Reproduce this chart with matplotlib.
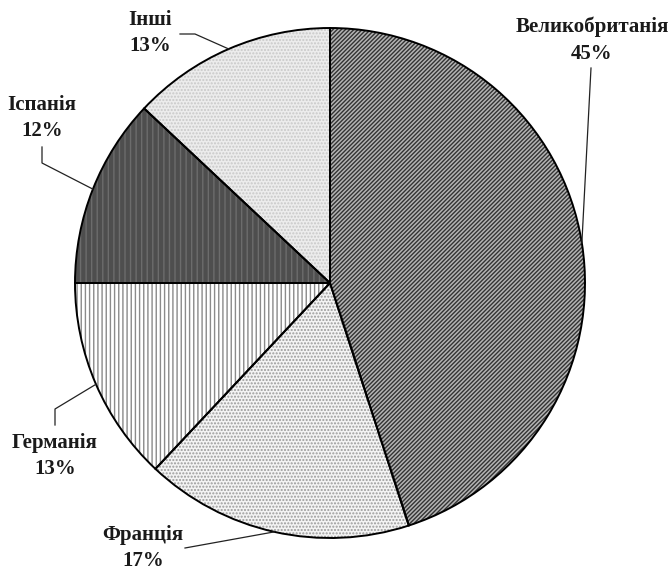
import numpy as np
import matplotlib
matplotlib.use('Agg')
import matplotlib.pyplot as plt

# data
countries = ['Великобританія', 'Франція', 'Германія', 'Іспанія', 'Інші']
shares = [45, 17, 13, 12, 13]

# styles per slice
faces = ['#b4b4b4', '#f4f4f4', '#ffffff', '#4e4e4e', '#ececec']
hatch_cols = ['#333333', '#9a9a9a', '#8a8a8a', '#6c6c6c', '#c8c8c8']
hatches = ['////////', '.....', '||||', '|||', '.....']

# label placement (pixels, origin top-left) and leader elbows
label_xy = [(592, 40), (143, 548), (55, 456), (42, 118), (150, 33)]
elbows = [[(591, 68)], [(185, 548)], [(55, 425), (55, 409)],
          [(42, 147), (42, 163)], [(180, 34), (195, 34)]]

W, H = 671, 570
cx, cy, R = 330, 283, 255

plt.rcParams['font.family'] = ['Liberation Serif', 'DejaVu Serif']
fig = plt.figure(figsize=(W / 100, H / 100), dpi=100)
ax = fig.add_axes([0, 0, 1, 1])
ax.set_xlim(0, W)
ax.set_ylim(0, H)
ax.set_aspect('equal')
ax.axis('off')

center = (cx, H - cy)
wedges, _ = ax.pie(shares, startangle=90, counterclock=False, center=center,
                   radius=R, colors=faces, wedgeprops=dict(linewidth=0))
for w, hc, h in zip(wedges, hatch_cols, hatches):
    w.set_hatch(h)
    w.set_edgecolor(hc)
    w.set_linewidth(0)

# outlines on top
outl, _ = ax.pie(shares, startangle=90, counterclock=False, center=center,
                 radius=R, colors=['none'] * len(shares),
                 wedgeprops=dict(linewidth=1.4, edgecolor='black'))
ax.set_xlim(0, W)
ax.set_ylim(0, H)

for w, name, val, (lx, ly), el in zip(wedges, countries, shares, label_xy, elbows):
    mid = np.deg2rad((w.theta1 + w.theta2) / 2)
    ex = cx + R * np.cos(mid)
    ey = H - cy + R * np.sin(mid)
    pts = [(x, H - y) for x, y in el] + [(ex, ey)]
    xs, ys = zip(*pts)
    ax.plot(xs, ys, color='#222222', lw=0.9)
    ax.text(lx, H - ly, f'{name}\n{val}%', ha='center', va='center',
            fontsize=15, fontweight='bold', color='#1a1a1a', linespacing=1.45)

fig.savefig('out.png', dpi=100)
